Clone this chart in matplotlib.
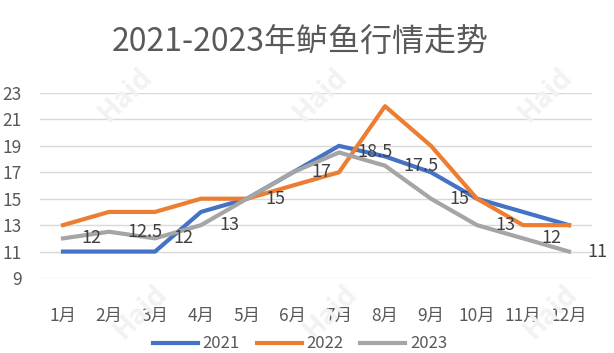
import matplotlib
matplotlib.use("Agg")
import matplotlib.pyplot as plt

plt.rcParams['font.family'] = ['Noto Sans CJK SC', 'DejaVu Sans']

months = ['1月', '2月', '3月', '4月', '5月', '6月', '7月', '8月', '9月', '10月', '11月', '12月']
price_2021 = [11, 11, 11, 14, 15, 17, 19, 18.2, 17, 15, 14, 13]
price_2022 = [13, 14, 14, 15, 15, 16, 17, 22, 19, 15, 13, 13]
price_2023 = [12, 12.5, 12, 13, 15, 17, 18.5, 17.5, 15, 13, 12, 11]
yticks = [9, 11, 13, 15, 17, 19, 21, 23]

W, H = 614, 353
fig = plt.figure(figsize=(W / 100, H / 100), dpi=100)

# faint watermark text
for wx, wy in [(125, 95), (320, 95), (545, 95), (140, 312), (330, 312), (550, 312)]:
    fig.text(wx / W, 1 - wy / H, 'Haid', rotation=45, fontsize=20, fontweight='bold',
             color='#f2f2f2', ha='center', va='center', zorder=0)

ax = fig.add_axes([40 / W, 1 - 278 / H, (592 - 40) / W, (278 - 93) / H])
ax.patch.set_alpha(0)

x = list(range(len(months)))
ax.plot(x, price_2021, color='#4472C4', lw=3, label='2021', solid_joinstyle='round')
ax.plot(x, price_2022, color='#ED7D31', lw=3, label='2022', solid_joinstyle='round')
ax.plot(x, price_2023, color='#A5A5A5', lw=3, label='2023', solid_joinstyle='round')

for xi, v in zip(x, price_2023):
    ax.annotate(f'{v:g}', (xi, v), xytext=(13, 0), textcoords='offset points',
                ha='left', va='center', fontsize=13, color='#404040')

ax.set_xlim(-0.5, 11.5)
ax.set_ylim(9, 23)
ax.set_yticks(yticks)
ax.set_xticks(x)
ax.set_xticklabels(months)
ax.grid(axis='y', color='#D9D9D9', lw=1)
ax.set_axisbelow(True)
for s in ax.spines.values():
    s.set_visible(False)
ax.tick_params(axis='both', length=0, labelsize=12.5, colors='#595959')
ax.tick_params(axis='y', pad=13)
ax.tick_params(axis='x', pad=21)

fig.text(300 / W, 1 - 43 / H, '2021-2023年鲈鱼行情走势', fontsize=23, color='#595959',
         ha='center', va='center')

fig.legend(loc='upper center', bbox_to_anchor=(300 / W, 1 - 327 / H), ncol=3,
           frameon=False, fontsize=12, handlelength=2.7, handletextpad=0.3,
           columnspacing=1.0, borderpad=0, labelcolor='#595959')

fig.savefig('out.png', dpi=100)
